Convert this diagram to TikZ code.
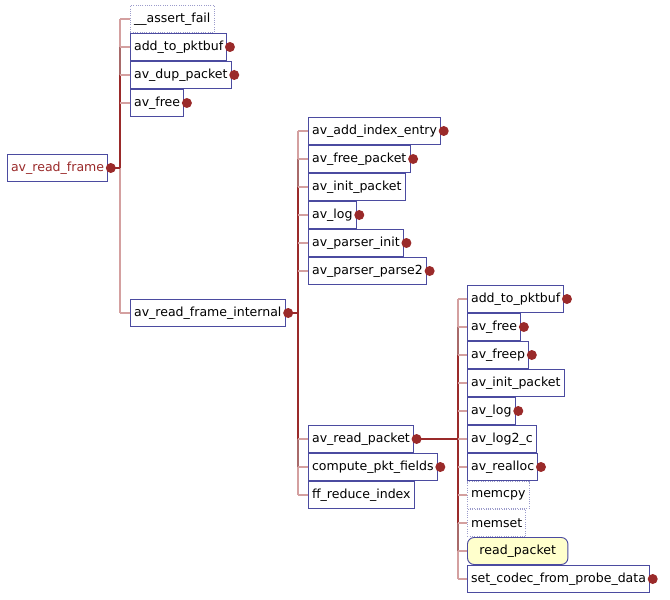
\documentclass[tikz,border=0pt]{standalone}
\usepackage{fontspec}
\setmainfont{DejaVu Sans}
\usetikzlibrary{positioning, calc}
\definecolor{boxBlue}{HTML}{4B4BA0}
\definecolor{dotRed}{HTML}{9A2A2A}
\definecolor{edgeLite}{HTML}{D4A0A0}
\definecolor{edgeMid}{HTML}{A86A6A}
\definecolor{noteYellow}{HTML}{FFFFCC}

\begin{document}
\begin{tikzpicture}[x=0.75pt, y=-0.75pt,
        fn/.style={draw=boxBlue, fill=white, anchor=west, minimum height=20.25pt, inner xsep=2.7pt, inner ysep=0pt, font=\fontsize{9.4}{11}\selectfont, line width=0.7pt},
        ext/.style={fn, draw=boxBlue!55, densely dotted},
        lite/.style={edgeLite, line width=1.3pt},
        mid/.style={edgeMid, line width=1.3pt},
        dark/.style={dotRed, line width=1.4pt},
        dot/.style={fill=dotRed}]
    \useasboundingbox (0,0) rectangle (670,599);
    \coordinate (busA) at (120,0);
    \coordinate (busB) at (298,0);
    \coordinate (busC) at (458,0);

    % root
    \node[fn, text=dotRed] (readFrame) at (7,168) {av\_read\_frame};

    % callees of av_read_frame
    \node[ext] (assertFail) at (130,19) {\_\_assert\_fail};
    \foreach \nm/\txt/\y in {addPktA/add\_to\_pktbuf/47, dupPacket/av\_dup\_packet/75, freeA/av\_free/103,
            readFrameInternal/av\_read\_frame\_internal/313}
        \node[fn] (\nm) at (130,\y) {\txt};

    % callees of av_read_frame_internal
    \foreach \nm/\txt/\y in {addIndex/av\_add\_index\_entry/131, freePacket/av\_free\_packet/159,
            initPacketB/av\_init\_packet/187, logB/av\_log/215, parserInit/av\_parser\_init/243,
            parserParse/av\_parser\_parse2/271, readPacketAv/av\_read\_packet/439,
            computeFields/compute\_pkt\_fields/467, reduceIndex/ff\_reduce\_index/495}
        \node[fn] (\nm) at (308,\y) {\txt};

    % callees of av_read_packet
    \foreach \nm/\txt/\y in {addPktC/add\_to\_pktbuf/299, freeC/av\_free/327, freep/av\_freep/355,
            initPacketC/av\_init\_packet/383, logC/av\_log/411, logTwo/av\_log2\_c/439,
            realloc/av\_realloc/467, setCodec/set\_codec\_from\_probe\_data/579}
        \node[fn] (\nm) at (467,\y) {\txt};
    \node[ext] (memcpy) at (467,495) {memcpy};
    \node[ext] (memset) at (467,523) {memset};
    \node[fn, fill=noteYellow, rounded corners=5pt, inner xsep=9pt] (readPacket) at (467,551) {read\_packet};

    % buses
    \draw[lite] (assertFail.west -| busA) -- (readFrameInternal.west -| busA);
    \draw[mid] (addPktA.west -| busA) -- (dupPacket.west -| busA);
    \draw[dark] (dupPacket.west -| busA) -- (readFrame.east -| busA);
    \draw[lite] (addIndex.west -| busB) -- (reduceIndex.west -| busB);
    \draw[mid] (freePacket.west -| busB) -- (initPacketB.west -| busB);
    \draw[dark] (initPacketB.west -| busB) -- (readPacketAv.west -| busB);
    \draw[mid] (readPacketAv.west -| busB) -- (computeFields.west -| busB);
    \draw[lite] (addPktC.west -| busC) -- (setCodec.west -| busC);
    \draw[mid] (freeC.west -| busC) -- (freep.west -| busC);
    \draw[dark] (freep.west -| busC) -- (memset.west -| busC);
    \draw[mid] (memset.west -| busC) -- (readPacket.west -| busC);

    % branches
    \foreach \nm in {assertFail, addPktA, dupPacket, freeA, readFrameInternal}
        \draw[lite] (\nm.west) -- (\nm.west -| busA);
    \foreach \nm in {addIndex, freePacket, initPacketB, logB, parserInit, parserParse, readPacketAv, computeFields, reduceIndex}
        \draw[lite] (\nm.west) -- (\nm.west -| busB);
    \foreach \nm in {addPktC, freeC, freep, initPacketC, logC, logTwo, realloc, memcpy, memset, readPacket, setCodec}
        \draw[lite] (\nm.west) -- (\nm.west -| busC);

    % callers
    \draw[dark] (readFrame.east) -- (readFrame.east -| busA);
    \draw[dark] (readFrameInternal.east) -- (readFrameInternal.east -| busB);
    \draw[dark] (readPacketAv.east) -- (readPacketAv.east -| busC);

    % expandable markers
    \foreach \nm in {readFrame, addPktA, dupPacket, freeA, readFrameInternal, addIndex, freePacket, logB, parserInit,
            parserParse, readPacketAv, computeFields, addPktC, freeC, freep, logC, realloc, setCodec}
        \fill[dot] ([xshift=2pt]\nm.east) circle (5);
\end{tikzpicture}
\end{document}
